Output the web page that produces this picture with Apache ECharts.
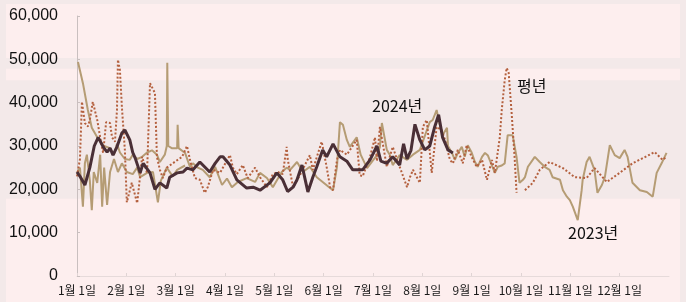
<!DOCTYPE html>
<html>
<head>
<meta charset="utf-8">
<script src="https://cdn.jsdelivr.net/npm/echarts@6/dist/echarts.min.js"></script>
<style>
  html, body { margin: 0; padding: 0; background: #f3e9e9; }
  #chart { width: 686px; height: 302px; }
</style>
</head>
<body>
<div id="chart"></div>
<script>
// x = months since Jan 1 (1.0 = Feb 1, ...), y = value
const monthLabels = ['1월 1일', '2월 1일', '3월 1일', '4월 1일', '5월 1일', '6월 1일',
  '7월 1일', '8월 1일', '9월 1일', '10월 1일', '11월 1일', '12월 1일'];

const y2024 = [
  [0, 24000], [0.06, 23000], [0.16, 21000], [0.26, 25000], [0.35, 30000], [0.43, 32000],
  [0.53, 29800], [0.61, 28600], [0.67, 29500], [0.73, 27900], [0.81, 29800], [0.91, 33000],
  [0.97, 33700], [1.07, 31400], [1.13, 28500], [1.18, 27200], [1.28, 23800], [1.34, 26000],
  [1.48, 23800], [1.58, 20000], [1.68, 21500], [1.82, 20300], [1.88, 22800], [2.03, 23800],
  [2.15, 24000], [2.23, 24900], [2.35, 24500], [2.49, 26300], [2.69, 24000], [2.80, 26000],
  [2.90, 27500], [2.96, 27500], [3.10, 25600], [3.24, 22200], [3.44, 20300], [3.57, 20500],
  [3.71, 19800], [3.91, 21500], [4.05, 23800], [4.17, 22200], [4.27, 19500], [4.38, 20500],
  [4.46, 22200], [4.56, 25600], [4.68, 19400], [4.78, 22800], [4.86, 25200], [4.98, 29100],
  [5.06, 27500], [5.19, 30500], [5.33, 27500], [5.47, 26500], [5.59, 24500], [5.79, 24500],
  [5.94, 26800], [6.08, 30000], [6.16, 26500], [6.28, 26000], [6.40, 27500], [6.54, 25600],
  [6.62, 30500], [6.69, 27000], [6.77, 29000], [6.85, 35000], [6.95, 31400], [7.05, 29100],
  [7.15, 30000], [7.25, 34400], [7.33, 37200], [7.41, 32000], [7.52, 29100], [7.62, 28400]
];

const y2023 = [
  [0.02, 49400], [0.12, 44500], [0.22, 38300], [0.30, 34200], [0.41, 32000], [0.55, 30000],
  [0.67, 29500], [0.75, 28000], [0.81, 30500], [0.87, 28500], [0.97, 27000], [1.07, 26800],
  [1.13, 28000], [1.22, 27000], [1.32, 27500], [1.42, 28500], [1.52, 29000], [1.62, 28000],
  [1.68, 26300], [1.78, 28000], [1.82, 30000], [1.83, 49200], [1.85, 30000], [1.92, 29500],
  [2.03, 29500], [2.04, 34900], [2.06, 29500], [2.19, 28400], [2.29, 25200], [2.35, 26000],
  [2.45, 25000], [2.55, 24500], [2.69, 22800], [2.80, 25200], [2.94, 21000], [3.04, 22500],
  [3.14, 20500], [3.26, 21700], [3.44, 22600], [3.61, 21700], [3.71, 23800], [3.85, 22600],
  [3.97, 20500], [4.15, 24000], [4.25, 25000], [4.32, 24500], [4.46, 26300], [4.58, 24000],
  [4.72, 25200], [4.86, 22800], [4.98, 21700], [5.13, 20300], [5.19, 19800], [5.27, 25200],
  [5.33, 35500], [5.39, 34900], [5.47, 31400], [5.53, 29800], [5.67, 32000], [5.75, 28000],
  [5.88, 24900], [6.08, 27900], [6.14, 29800], [6.18, 35300], [6.28, 29100], [6.34, 28000],
  [6.40, 25600], [6.54, 27900], [6.69, 26800], [6.81, 28000], [6.95, 29100], [7.15, 35500],
  [7.21, 36000], [7.29, 38300], [7.35, 35000], [7.41, 32500], [7.50, 34200], [7.52, 30000],
  [7.60, 28400], [7.66, 26800], [7.72, 28400], [7.80, 29800], [7.86, 27500], [7.92, 30200],
  [8.00, 28500], [8.06, 26500], [8.12, 25200], [8.21, 27500], [8.27, 28400], [8.33, 27800],
  [8.41, 25500], [8.47, 23800], [8.53, 25200], [8.61, 25500], [8.67, 26000], [8.73, 32500],
  [8.83, 32500], [8.91, 27500], [8.97, 21500], [9.04, 22200], [9.08, 22800], [9.14, 25200],
  [9.28, 27500], [9.38, 26300], [9.48, 25200], [9.58, 24500], [9.64, 22800], [9.79, 22200],
  [9.85, 19800], [9.93, 18300], [9.99, 17500], [10.05, 16000], [10.15, 12900], [10.23, 19800],
  [10.25, 22200], [10.33, 26300], [10.39, 27500], [10.49, 24500], [10.55, 19200], [10.64, 21000],
  [10.70, 22800], [10.80, 30200], [10.90, 27900], [11.00, 27200], [11.10, 29100], [11.16, 27500],
  [11.26, 21500], [11.41, 19800], [11.55, 19400], [11.67, 18300], [11.75, 23800], [11.85, 26000],
  [11.95, 28400]
];

// second, lower 2023 trace in Jan-Feb
const y2023Low = [
  [0, 23800], [0.06, 25000], [0.12, 16000], [0.16, 26000], [0.20, 28000], [0.26, 22000],
  [0.30, 15200], [0.34, 24000], [0.41, 21500], [0.47, 28000], [0.51, 16000], [0.55, 25000],
  [0.61, 16400], [0.67, 24000], [0.75, 27000], [0.83, 24000], [0.91, 26000], [1.01, 24000],
  [1.13, 23500], [1.22, 25000], [1.28, 22800], [1.42, 23800], [1.54, 24000], [1.64, 17000],
  [1.70, 22000], [1.82, 25000], [1.94, 23000], [2.03, 24500], [2.19, 25500]
];

const yAvg = [
  [0, 23000], [0.06, 27000], [0.10, 40200], [0.16, 35300], [0.22, 34500], [0.26, 36000],
  [0.32, 40200], [0.41, 36000], [0.47, 32000], [0.53, 28400], [0.59, 35500], [0.67, 35300],
  [0.71, 32000], [0.77, 31000], [0.81, 38300], [0.83, 49900], [0.87, 47500], [0.91, 39000],
  [0.97, 29100], [1.01, 17000], [1.11, 21500], [1.22, 16800], [1.32, 27500], [1.42, 23800],
  [1.48, 44500], [1.52, 44800], [1.58, 42200], [1.62, 27500], [1.68, 24500], [1.74, 22600],
  [1.82, 25000], [1.94, 26000], [2.13, 27500], [2.23, 30000], [2.29, 26800], [2.39, 22600],
  [2.49, 22200], [2.59, 19200], [2.65, 20500], [2.76, 24500], [2.90, 23800], [3.10, 27900],
  [3.16, 25000], [3.24, 23500], [3.36, 25600], [3.46, 22600], [3.61, 25000], [3.71, 22800],
  [3.85, 20500], [3.97, 23500], [4.07, 24000], [4.17, 23500], [4.25, 29800], [4.27, 27000],
  [4.38, 20500], [4.52, 23300], [4.72, 27900], [4.78, 24500], [4.96, 31000], [5.06, 25200],
  [5.13, 20500], [5.19, 19800], [5.27, 26800], [5.33, 29100], [5.47, 28000], [5.67, 31400],
  [5.73, 23300], [5.79, 23000], [5.94, 27500], [6.04, 32000], [6.08, 26500], [6.14, 34400],
  [6.28, 25200], [6.40, 29800], [6.50, 26500], [6.69, 20500], [6.75, 22800], [6.81, 24500],
  [6.95, 21500], [7.01, 34400], [7.09, 36000], [7.19, 23800], [7.29, 34400], [7.39, 33700],
  [7.46, 31400], [7.56, 26800], [7.62, 26000], [7.72, 29100], [7.82, 26000], [7.90, 30200],
  [8.00, 27500], [8.10, 25200], [8.21, 26800], [8.31, 22200], [8.41, 26800], [8.47, 23800],
  [8.57, 32000], [8.61, 38300], [8.67, 45200], [8.71, 48000], [8.75, 46900], [8.81, 37600],
  [8.87, 27500], [8.91, 19200], [9.0, null],
  [9.08, 19800], [9.24, 21500], [9.38, 24500], [9.58, 26300], [9.85, 24900], [10.09, 22800],
  [10.33, 22600], [10.49, 24900], [10.74, 21700], [11.00, 23800], [11.26, 26000], [11.47, 27200],
  [11.71, 28600], [11.87, 26800], [11.95, 27500]
];

// shaded value bands behind the plot
const bands = [[17800, 45200], [47800, 50300]];

const chart = echarts.init(document.getElementById('chart'));

const tanStyle = { color: '#b59c74', width: 2 };

chart.setOption({
  backgroundColor: '#f3e9e9',
  animation: false,
  grid: { left: 77, right: 17, top: 16, bottom: 26 },
  xAxis: {
    type: 'value', min: 0, max: 12, interval: 1,
    axisLine: { lineStyle: { color: '#e6dada', width: 1 } },
    axisTick: { inside: true, length: 3, lineStyle: { color: '#e0d4d4' } },
    splitLine: { show: false },
    axisLabel: {
      showMaxLabel: false, margin: 8,
      fontFamily: 'Noto Sans CJK KR', fontSize: 12, color: '#1a1a1a',
      formatter: v => monthLabels[v] || ''
    }
  },
  yAxis: {
    type: 'value', min: 0, max: 60000, interval: 10000,
    axisLine: { show: true, lineStyle: { color: '#c9bfbf', width: 1 } },
    axisTick: { show: true, inside: true, length: 3, lineStyle: { color: '#c9bfbf' } },
    splitLine: { show: false },
    axisLabel: {
      margin: 19, fontFamily: 'Liberation Sans', fontSize: 16, color: '#111',
      formatter: v => v.toLocaleString('en-US')
    }
  },
  series: [
    { name: '2023년', type: 'line', data: y2023, showSymbol: false, lineStyle: tanStyle, z: 2 },
    { name: '2023년 ', type: 'line', data: y2023Low, showSymbol: false, lineStyle: tanStyle, z: 2 },
    { name: '평년', type: 'line', data: yAvg, showSymbol: false, connectNulls: false,
      lineStyle: { color: '#b4603e', width: 2, type: [2, 2] }, z: 3 },
    { name: '2024년', type: 'line', data: y2024, showSymbol: false,
      lineStyle: { color: '#4a2f36', width: 3 }, z: 4 }
  ]
});

// background panel and bands, placed on the y scale
const bandRects = bands.map(([lo, hi]) => {
  const yTop = chart.convertToPixel({ yAxisIndex: 0 }, hi);
  const yBot = chart.convertToPixel({ yAxisIndex: 0 }, lo);
  return { type: 'rect', z: -9, silent: true,
    shape: { x: 6, y: yTop, width: 674, height: yBot - yTop },
    style: { fill: '#f3e9e9' } };
});

const textStyle = { fontFamily: 'Noto Sans CJK KR', fontSize: 16, fill: '#111' };

chart.setOption({
  graphic: [
    { type: 'rect', z: -10, silent: true, shape: { x: 6, y: 4, width: 674, height: 298 },
      style: { fill: '#fdeeee' } },
    ...bandRects,
    { type: 'text', left: 372, top: 98, z: 10, style: Object.assign({ text: '2024년' }, textStyle) },
    { type: 'text', left: 517, top: 78, z: 10, style: Object.assign({ text: '평년' }, textStyle) },
    { type: 'text', left: 568, top: 225, z: 10, style: Object.assign({ text: '2023년' }, textStyle) }
  ]
});
</script>
</body>
</html>
